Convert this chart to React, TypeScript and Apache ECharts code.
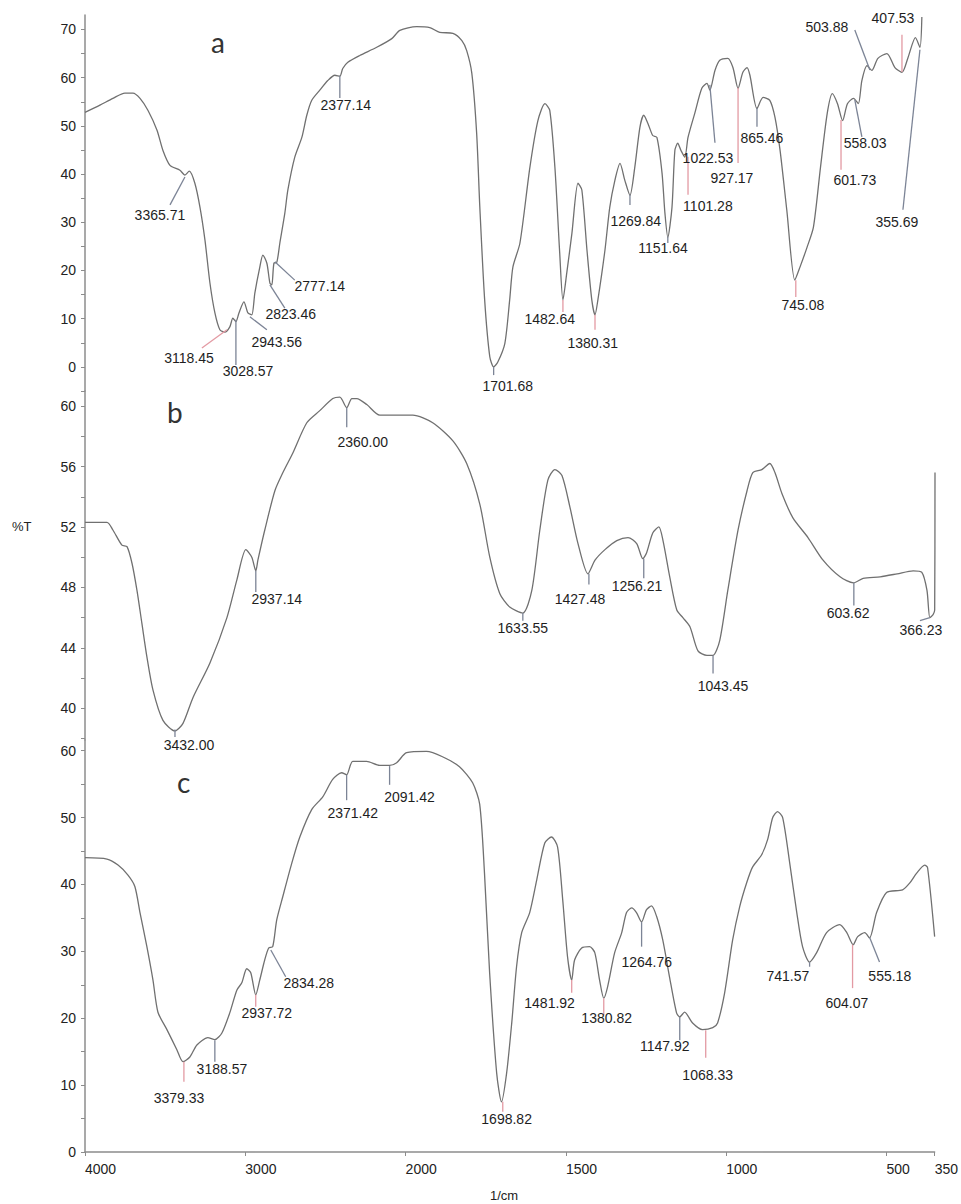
import React, { useEffect, useRef } from "react";
import * as echarts from "echarts";

// ---------- spectrum a ----------
const waveA = [4000, 3907, 3826, 3751, 3701, 3657, 3607, 3551, 3514, 3470, 3408, 3377, 3350, 3315, 3283, 3252, 3221, 3190, 3159, 3128, 3097, 3078, 3059, 3040, 3009, 2984, 2960, 2941, 2910, 2891, 2866, 2847, 2835, 2822, 2804, 2785, 2754, 2735, 2692, 2648, 2617, 2586, 2536, 2486, 2442, 2411, 2393, 2361, 2287, 2181, 2087, 2037, 1966, 1925, 1894, 1853, 1825, 1810, 1794, 1779, 1769, 1754, 1738, 1726, 1713, 1691, 1676, 1666, 1644, 1613, 1588, 1566, 1551, 1535, 1520, 1510, 1498, 1482, 1463, 1451, 1435, 1420, 1410, 1401, 1379, 1364, 1348, 1332, 1317, 1301, 1286, 1270, 1258, 1245, 1230, 1217, 1201, 1192, 1183, 1170, 1161, 1152, 1142, 1130, 1120, 1099, 1077, 1061, 1052, 1036, 1021, 996, 980, 964, 949, 936, 927, 905, 886, 865, 849, 833, 812, 787, 771, 749, 729, 707, 686, 670, 654, 638, 623, 604, 589, 578, 562, 547, 528, 500, 475, 453, 434, 411, 397, 391];
const transA = [52.8, 54.3, 55.7, 56.8, 56.8, 55.7, 53.2, 49.1, 44.9, 41.8, 40.8, 39.8, 40.6, 38.1, 33.1, 26.3, 17.4, 11.2, 7.7, 7.2, 8.3, 10.1, 9.4, 11.2, 13.5, 11.2, 10.8, 15.3, 20.7, 23.2, 21.5, 17.4, 17.0, 21.5, 21.7, 25.7, 31.9, 36.7, 43.5, 47.6, 52.2, 55.3, 57.4, 59.4, 60.5, 60.3, 61.9, 63.2, 64.6, 66.3, 68.1, 69.8, 70.6, 70.4, 69.4, 69.2, 67.7, 65.6, 60.9, 48.5, 33.0, 13.9, 2.1, 0.0, 1.0, 4.9, 13.9, 20.7, 25.7, 41.4, 51.1, 54.6, 53.2, 41.4, 23.6, 13.9, 19.5, 27.7, 38.1, 36.7, 24.2, 13.9, 10.8, 13.9, 24.2, 33.1, 38.7, 42.2, 38.7, 35.6, 41.4, 49.7, 52.2, 50.5, 48.0, 47.6, 40.2, 31.9, 26.9, 33.1, 44.9, 46.4, 44.9, 43.5, 47.6, 52.6, 57.8, 58.8, 57.4, 61.5, 63.6, 64.0, 62.1, 57.8, 61.1, 62.1, 60.5, 53.6, 55.9, 55.3, 51.8, 44.9, 32.5, 18.0, 20.7, 24.8, 29.0, 41.4, 52.6, 56.7, 54.6, 51.1, 54.6, 55.7, 54.6, 59.4, 62.5, 61.5, 64.0, 65.0, 62.1, 61.1, 64.2, 68.3, 66.3, 72.6];

// ---------- spectrum b ----------
const waveB = [4000, 3863, 3826, 3770, 3738, 3707, 3676, 3645, 3614, 3576, 3514, 3439, 3389, 3327, 3221, 3115, 3053, 2997, 2960, 2935, 2922, 2879, 2816, 2766, 2704, 2617, 2536, 2455, 2411, 2368, 2336, 2305, 2243, 2162, 1978, 1916, 1853, 1810, 1769, 1738, 1707, 1676, 1635, 1607, 1582, 1557, 1535, 1513, 1488, 1463, 1432, 1410, 1379, 1342, 1307, 1280, 1261, 1249, 1230, 1211, 1198, 1177, 1155, 1136, 1114, 1089, 1061, 1042, 1021, 996, 964, 936, 918, 890, 865, 849, 827, 793, 746, 699, 646, 604, 574, 521, 468, 418, 391, 375, 366, 356, 351, 350];
const transB = [52.3, 52.3, 51.8, 50.8, 50.7, 49.6, 47.8, 45.6, 43.4, 41.2, 39.2, 38.5, 39.0, 40.7, 43.0, 46.0, 48.5, 50.5, 50.0, 49.1, 49.8, 51.8, 54.4, 55.6, 56.9, 58.9, 59.7, 60.5, 60.6, 59.9, 60.5, 60.5, 60.1, 59.4, 59.4, 58.9, 57.7, 56.2, 53.5, 50.0, 47.6, 46.7, 46.3, 47.8, 51.8, 55.1, 55.8, 55.4, 53.3, 50.9, 48.9, 49.8, 50.5, 51.1, 51.3, 50.9, 49.9, 50.3, 51.6, 52.0, 51.1, 48.7, 46.5, 46.0, 45.4, 43.8, 43.5, 43.5, 44.5, 47.8, 51.8, 54.4, 55.6, 55.8, 56.2, 55.6, 54.2, 52.6, 51.3, 49.8, 48.7, 48.3, 48.6, 48.7, 48.9, 49.1, 49.0, 47.8, 46.0, 46.2, 46.5, 55.6];

// ---------- spectrum c ----------
const waveC = [4000, 3863, 3794, 3732, 3689, 3657, 3614, 3576, 3545, 3489, 3427, 3389, 3346, 3302, 3234, 3190, 3146, 3097, 3053, 3022, 2991, 2966, 2935, 2910, 2879, 2854, 2829, 2804, 2766, 2710, 2660, 2586, 2517, 2455, 2399, 2368, 2330, 2243, 2162, 2100, 2056, 1997, 1935, 1885, 1832, 1791, 1769, 1754, 1738, 1716, 1701, 1685, 1669, 1654, 1638, 1613, 1591, 1566, 1545, 1526, 1510, 1495, 1482, 1473, 1451, 1426, 1410, 1395, 1382, 1370, 1348, 1326, 1311, 1295, 1280, 1264, 1249, 1233, 1217, 1198, 1177, 1155, 1145, 1130, 1105, 1074, 1042, 1027, 1005, 980, 958, 936, 918, 890, 871, 855, 840, 824, 802, 780, 762, 740, 718, 687, 646, 624, 604, 590, 568, 553, 531, 500, 450, 428, 406, 381, 372, 350];
const transC = [44.0, 43.8, 42.9, 41.4, 39.7, 35.8, 30.7, 25.7, 20.9, 18.3, 15.3, 13.5, 14.2, 16.0, 17.1, 16.8, 17.8, 20.8, 24.2, 25.3, 27.4, 26.8, 23.5, 25.7, 28.7, 30.5, 30.7, 34.7, 38.2, 43.2, 47.1, 51.2, 53.1, 55.7, 56.7, 56.4, 58.4, 58.4, 57.8, 57.8, 58.2, 59.7, 59.9, 59.1, 57.6, 55.2, 52.0, 41.7, 26.8, 11.8, 7.5, 11.8, 19.3, 27.7, 32.8, 35.8, 40.7, 46.2, 47.1, 45.6, 37.7, 29.2, 25.7, 28.7, 30.5, 30.7, 29.8, 25.7, 23.0, 24.7, 29.8, 32.8, 35.8, 36.5, 35.8, 34.4, 36.2, 36.8, 35.2, 31.7, 26.2, 20.8, 20.2, 20.9, 19.3, 18.3, 18.6, 19.3, 23.8, 31.7, 36.7, 40.3, 42.6, 44.4, 46.7, 50.0, 50.9, 50.0, 43.2, 35.8, 30.7, 28.4, 29.8, 32.8, 34.0, 32.8, 31.0, 32.2, 32.8, 32.0, 35.8, 38.8, 39.2, 40.2, 41.7, 42.9, 42.5, 32.2];

// ---------- peak annotations: label, line [w1, %T1, w2, %T2], label anchor [w, %T], red marker ----------
const peakLabelsA = ["3365.71", "2377.14", "2777.14", "2823.46", "2943.56", "3118.45", "3028.57", "1701.68", "1482.64", "1380.31", "1269.84", "1151.64", "1101.28", "1022.53", "927.17", "865.46", "745.08", "601.73", "558.03", "503.88", "407.53", "355.69"];
const peakLinesA = [[3377, 39.4, 3470, 33.6], [2411, 60.4, 2411, 55.8], [2816, 21.8, 2692, 18.0], [2847, 17.0, 2754, 12.2], [2972, 10.4, 2866, 7.7], [3115, 7.7, 3271, 3.9], [3059, 9.8, 3059, 0.4], [1726, 0, 1726, -1.7], [1510, 13.9, 1510, 11.4], [1410, 10.8, 1410, 7.7], [1301, 35.7, 1301, 33.6], [1183, 27.0, 1183, 25.7], [1120, 43.6, 1120, 35.7], [1052, 58.5, 1036, 46.5], [964, 57.9, 964, 42.3], [905, 53.7, 905, 49.8], [784, 18.0, 784, 14.5], [643, 51.2, 643, 40.9], [600, 55.4, 578, 47.7], [553, 61.6, 600, 69.9], [453, 61.2, 453, 68.9], [397, 65.8, 450, 32.6]];
const peakPosA = [[3533, 31.5], [2374, 54.4], [2536, 16.8], [2717, 11.0], [2804, 5.2], [3352, 1.9], [2984, -0.8], [1682, -3.9], [1551, 10.0], [1417, 5.0], [1283, 30.3], [1198, 24.7], [1058, 33.4], [1058, 43.4], [983, 39.2], [890, 47.5], [762, 12.9], [600, 38.8], [568, 46.5], [687, 70.5], [481, 72.4], [469, 30.1]];
const peakRedA = [0, 0, 0, 0, 0, 1, 0, 0, 1, 1, 0, 0, 1, 0, 1, 0, 1, 1, 0, 0, 1, 0];

const peakLabelsB = ["2360.00", "2937.14", "3432.00", "1633.55", "1427.48", "1256.21", "1043.45", "603.62", "366.23"];
const peakLinesB = [[2368, 59.9, 2368, 58.6], [2935, 49.1, 2935, 47.7], [3439, 38.6, 3439, 38.1], [1635, 46.3, 1635, 45.8], [1429, 48.9, 1429, 48.2], [1258, 49.9, 1258, 48.6], [1042, 43.5, 1042, 42.3], [603, 48.3, 603, 46.8], [366, 46.0, 397, 45.8]];
const peakPosB = [[2268, 57.6], [2804, 47.2], [3352, 37.6], [1635, 45.3], [1457, 47.2], [1279, 48.1], [1011, 41.5], [621, 46.3], [394, 45.2]];
const peakRedB = [0, 0, 0, 0, 0, 0, 0, 0, 0];

const peakLabelsC = ["2371.42", "2091.42", "2834.28", "2937.72", "3188.57", "3379.33", "1698.82", "1481.92", "1380.82", "1264.76", "1147.92", "1068.33", "741.57", "604.07", "555.18"];
const peakLinesC = [[2368, 56.4, 2368, 52.6], [2100, 57.7, 2100, 54.9], [2841, 30.2, 2748, 26.2], [2935, 23.5, 2935, 21.7], [3190, 16.7, 3190, 13.5], [3383, 13.5, 3383, 10.5], [1697, 7.5, 1697, 6.0], [1482, 25.7, 1482, 23.8], [1382, 23.0, 1382, 20.5], [1264, 34.4, 1264, 30.7], [1145, 20.2, 1145, 16.7], [1064, 18.2, 1064, 14.1], [740, 28.4, 740, 27.7], [606, 31.0, 606, 24.5], [553, 32.1, 522, 28.4]];
const peakPosC = [[2330, 50.7], [1988, 53.1], [2604, 25.3], [2866, 20.8], [3146, 12.4], [3414, 8.1], [1685, 4.9], [1551, 22.3], [1373, 20.0], [1248, 28.4], [1192, 15.8], [1058, 11.5], [808, 26.3], [624, 22.3], [490, 26.3]];
const peakRedC = [0, 0, 0, 1, 0, 1, 1, 1, 1, 0, 0, 1, 0, 1, 0];

// ---------- axis ticks ----------
const xTickWaves = [4000, 3000, 2000, 1500, 1000, 500, 350];
const yLabelsA = [0, 10, 20, 30, 40, 50, 60, 70];
const yTicksA = [-5, 0, 5, 10, 15, 20, 25, 30, 35, 40, 45, 50, 55, 60, 65, 70];
const yLabelsB = [40, 44, 48, 52, 56, 60];
const yTicksB = [38, 40, 42, 44, 46, 48, 50, 52, 54, 56, 58, 60];
const yLabelsC = [0, 10, 20, 30, 40, 50, 60];
const yTicksC = [0, 5, 10, 15, 20, 25, 30, 35, 40, 45, 50, 55, 60];

// split scale: above 2000 1/cm is drawn at half scale
const tx = (w: number) => (w > 2000 ? 2000 + (w - 2000) / 2 : w);
const untx = (t: number) => (t > 2000 ? 2000 + (t - 2000) * 2 : t);

const FONT = '"Liberation Sans", Arial, sans-serif';
const CURVE = "#707070";
const AXIS = "#8c8c8c";

function App() {
  const ref = useRef<HTMLDivElement>(null);
  useEffect(() => {
    document.body.style.margin = "0";
    const chart = echarts.init(ref.current!, null, { renderer: "svg" });

    const grids = [
      { left: 85, width: 850, top: 15, height: 376 },
      { left: 85, width: 850, top: 391, height: 349 },
      { left: 85, width: 850, top: 740, height: 412 },
    ];

    const xAxes = [0, 1, 2].map((i) => ({
      type: "value",
      gridIndex: i,
      min: 350,
      max: 3000,
      inverse: true,
      show: i === 2,
      splitLine: { show: false },
      axisLine: { show: true, onZero: false, lineStyle: { color: AXIS, width: 1.5 } },
      axisTick: {
        show: true,
        length: 4,
        customValues: xTickWaves.map(tx),
        lineStyle: { color: AXIS },
      },
      axisLabel: {
        customValues: xTickWaves.map(tx),
        formatter: (v: number) => String(Math.round(untx(v))),
        color: "#222",
        fontFamily: FONT,
        fontSize: 14,
        align: "left",
        margin: 10,
      },
    }));

    const mkY = (i: number, min: number, max: number, labels: number[], ticks: number[]) => ({
      type: "value",
      gridIndex: i,
      min,
      max,
      splitLine: { show: false },
      axisLine: { show: true, onZero: false, lineStyle: { color: AXIS, width: 1.5 } },
      axisTick: { show: true, length: 4, customValues: ticks, lineStyle: { color: AXIS } },
      axisLabel: {
        customValues: labels,
        color: "#222",
        fontFamily: FONT,
        fontSize: 14,
        margin: 9,
      },
    });

    const yAxes = [
      mkY(0, -5, 73, yLabelsA, yTicksA),
      mkY(1, 37.9, 61, yLabelsB, yTicksB),
      mkY(2, 0, 61.6, yLabelsC, yTicksC),
    ];

    const curve = (i: number, w: number[], v: number[]) => ({
      type: "line",
      xAxisIndex: i,
      yAxisIndex: i,
      data: w.map((x, k) => [tx(x), v[k]]),
      showSymbol: false,
      smooth: 0.25,
      lineStyle: { color: CURVE, width: 1.3 },
      silent: true,
      z: 3,
    });

    const annos = (i: number, labels: string[], lines: number[][], pos: number[][], red: number[]) => ({
      type: "custom",
      xAxisIndex: i,
      yAxisIndex: i,
      coordinateSystem: "cartesian2d",
      clip: false,
      silent: true,
      z: 4,
      data: lines.map((l, k) => [tx(l[0]), l[1], tx(l[2]), l[3], tx(pos[k][0]), pos[k][1]]),
      encode: { x: [0, 2, 4], y: [1, 3, 5] },
      renderItem: (params: any, api: any) => {
        const k = params.dataIndex;
        const p1 = api.coord([api.value(0), api.value(1)]);
        const p2 = api.coord([api.value(2), api.value(3)]);
        const p3 = api.coord([api.value(4), api.value(5)]);
        return {
          type: "group",
          children: [
            {
              type: "line",
              shape: { x1: p1[0], y1: p1[1], x2: p2[0], y2: p2[1] },
              style: { stroke: red[k] ? "#e39aa3" : "#7c8496", lineWidth: 1.3 },
            },
            {
              type: "text",
              x: p3[0],
              y: p3[1],
              style: {
                text: labels[k],
                fill: "#1e1e1e",
                fontSize: 14,
                fontFamily: FONT,
                align: "center",
                verticalAlign: "middle",
              },
            },
          ],
        };
      },
    });

    chart.setOption({
      animation: false,
      backgroundColor: "#ffffff",
      grid: grids,
      xAxis: xAxes,
      yAxis: yAxes,
      series: [
        curve(0, waveA, transA),
        curve(1, waveB, transB),
        curve(2, waveC, transC),
        annos(0, peakLabelsA, peakLinesA, peakPosA, peakRedA),
        annos(1, peakLabelsB, peakLinesB, peakPosB, peakRedB),
        annos(2, peakLabelsC, peakLinesC, peakPosC, peakRedC),
      ],
      graphic: [
        { type: "text", left: 211, top: 28, style: { text: "a", fontSize: 28, fontFamily: "Lato, sans-serif", fill: "#333" } },
        { type: "text", left: 167, top: 398, style: { text: "b", fontSize: 28, fontFamily: "Lato, sans-serif", fill: "#333" } },
        { type: "text", left: 177, top: 768, style: { text: "c", fontSize: 28, fontFamily: "Lato, sans-serif", fill: "#333" } },
        { type: "text", left: 12, top: 520, style: { text: "%T", fontSize: 13, fontFamily: FONT, fill: "#222" } },
        { type: "text", left: 490, top: 1189, style: { text: "1/cm", fontSize: 13, fontFamily: FONT, fill: "#222" } },
      ],
    });
    return () => chart.dispose();
  }, []);
  return <div ref={ref} style={{ position: "absolute", left: 0, top: 0, width: 961, height: 1204 }} />;
}

export default App;
